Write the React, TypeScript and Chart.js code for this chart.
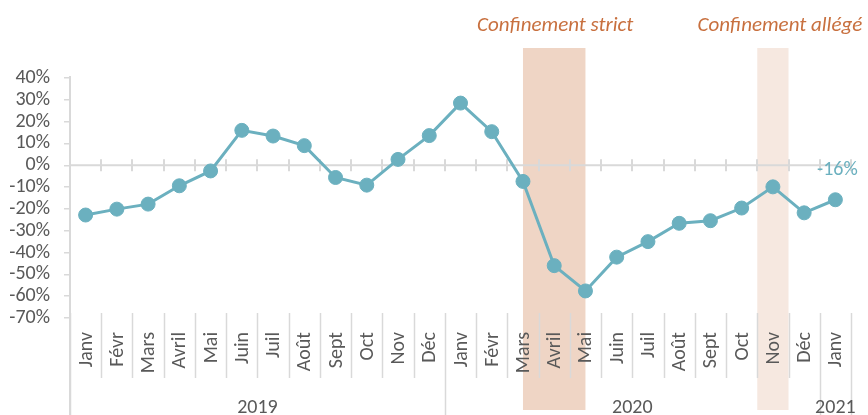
import { useEffect, useRef } from 'react';
import { Chart, registerables } from 'chart.js';
Chart.register(...registerables);

const months = ['Janv', 'Févr', 'Mars', 'Avril', 'Mai', 'Juin', 'Juil', 'Août', 'Sept', 'Oct', 'Nov', 'Déc',
  'Janv', 'Févr', 'Mars', 'Avril', 'Mai', 'Juin', 'Juil', 'Août', 'Sept', 'Oct', 'Nov', 'Déc', 'Janv'];
const values = [-22.8, -20.1, -17.8, -9.4, -2.6, 16.0, 13.4, 9.0, -5.6, -9.1, 2.7, 13.6,
  28.5, 15.4, -7.4, -46.0, -57.6, -42.1, -35.0, -26.6, -25.4, -19.6, -9.9, -21.8, -15.8];
const years = ['2019', '2020', '2021'];
const yearFirstIndex = [0, 12, 24];
const yearLastIndex = [11, 23, 24];
const periodLabels = ['Confinement strict', 'Confinement allégé'];
const periodFrom = [14, 21.5];
const periodTo = [16, 22.5];
const periodColors = ['#EFD5C5', '#F6E8E0'];
const lastValueLabel = '-16%';
const yMin = -70;
const yMax = 40;
const yStep = 10;

const FONT = 'Carlito, Calibri, Lato, sans-serif';
const GREY = '#595959';
const LINE_GREY = '#D9D9D9';
const TEAL = '#6BB0BF';
const ORANGE = '#C8703F';

const overlay = {
  id: 'overlay',
  beforeDraw(chart: any) {
    const { ctx, chartArea, scales } = chart;
    const x = scales.x;
    ctx.save();
    for (let i = 0; i < periodLabels.length; i++) {
      const x1 = x.getPixelForValue(periodFrom[i]);
      const x2 = x.getPixelForValue(periodTo[i]);
      const top = chartArea.top - 30;
      ctx.fillStyle = periodColors[i];
      ctx.fillRect(x1, top, x2 - x1, chart.height - 5 - top);
    }
    ctx.restore();
  },
  beforeDatasetsDraw(chart: any) {
    const { ctx, chartArea, scales } = chart;
    const x = scales.x;
    const y = scales.y;
    const y0 = y.getPixelForValue(0);
    ctx.save();
    ctx.strokeStyle = LINE_GREY;
    ctx.lineWidth = 2;
    ctx.beginPath();
    ctx.moveTo(chartArea.left, y0);
    ctx.lineTo(chartArea.right, y0);
    for (let i = 0; i <= months.length; i++) {
      const bx = Math.round(x.getPixelForValue(i - 0.5));
      ctx.moveTo(bx, y0 - 6);
      ctx.lineTo(bx, y0 + 6);
    }
    ctx.stroke();

    const sepTop = chartArea.bottom - 5;
    ctx.lineWidth = 1.5;
    ctx.beginPath();
    const yearBounds = new Set<number>();
    yearFirstIndex.forEach((v) => yearBounds.add(v));
    yearBounds.add(months.length);
    for (let i = 0; i <= months.length; i++) {
      const bx = Math.round(x.getPixelForValue(i - 0.5)) + 0.5;
      ctx.moveTo(bx, sepTop);
      ctx.lineTo(bx, yearBounds.has(i) ? chart.height : chartArea.bottom + 60);
    }
    ctx.stroke();
    ctx.beginPath();
    ctx.lineWidth = 2;
    ctx.moveTo(chartArea.left, chartArea.top - 2);
    ctx.lineTo(chartArea.left, chart.height);
    ctx.stroke();

    ctx.fillStyle = GREY;
    ctx.font = `20px ${FONT}`;
    ctx.textAlign = 'right';
    ctx.textBaseline = 'middle';
    months.forEach((m, i) => {
      const cx = x.getPixelForValue(i);
      ctx.save();
      ctx.translate(cx + 1, chartArea.bottom + 14);
      ctx.rotate(-Math.PI / 2);
      ctx.fillText(m, 0, 0);
      ctx.restore();
    });
    ctx.textAlign = 'center';
    ctx.textBaseline = 'alphabetic';
    years.forEach((yr, i) => {
      const a = x.getPixelForValue(yearFirstIndex[i] - 0.5);
      const b = x.getPixelForValue(yearLastIndex[i] + 0.5);
      ctx.fillText(yr, (a + b) / 2, chart.height - 2);
    });
    ctx.restore();
  },
  afterDatasetsDraw(chart: any) {
    const { ctx, chartArea, scales } = chart;
    const x = scales.x;
    ctx.save();
    const meta = chart.getDatasetMeta(0);
    const last = meta.data[meta.data.length - 1];
    ctx.fillStyle = TEAL;
    ctx.font = `20px ${FONT}`;
    ctx.textAlign = 'center';
    ctx.textBaseline = 'middle';
    ctx.fillText(lastValueLabel, last.x + 2, last.y - 30);

    ctx.fillStyle = ORANGE;
    ctx.font = `italic 21px ${FONT}`;
    periodLabels.forEach((t, i) => {
      const c = (x.getPixelForValue(periodFrom[i]) + x.getPixelForValue(periodTo[i])) / 2;
      const off = i === 1 ? 7 : 1;
      ctx.fillText(t, c + off, chartArea.top - 52);
    });
    ctx.restore();
  },
};

export default function App() {
  const ref = useRef<HTMLCanvasElement>(null);
  useEffect(() => {
    if (!ref.current) return;
    const chart = new Chart(ref.current, {
      type: 'line',
      data: {
        labels: months,
        datasets: [{
          data: values,
          borderColor: TEAL,
          backgroundColor: TEAL,
          borderWidth: 3,
          pointRadius: 7,
          pointBorderWidth: 1,
          pointBackgroundColor: TEAL,
          pointBorderColor: TEAL,
          tension: 0,
        }],
      },
      options: {
        responsive: false,
        animation: false,
        devicePixelRatio: 1,
        layout: { padding: { left: 8, right: 17, top: 78, bottom: 97 } },
        plugins: { legend: { display: false }, tooltip: { enabled: false } },
        scales: {
          x: { type: 'category', display: false, offset: true },
          y: {
            min: yMin,
            max: yMax,
            afterFit: (s: any) => { s.width = 62; },
            ticks: {
              stepSize: yStep,
              autoSkip: false,
              padding: 14,
              color: GREY,
              font: { family: FONT, size: 20 },
              callback: (v: any) => `${v}%`,
            },
            grid: { drawOnChartArea: false, drawTicks: true, tickLength: 6, color: LINE_GREY, lineWidth: 1.5 },
            border: { display: true, color: LINE_GREY, width: 2 },
          },
        },
      },
      plugins: [overlay],
    } as any);
    return () => chart.destroy();
  }, []);
  return (
    <div style={{ position: 'absolute', left: 0, top: 0, width: 868, height: 415, background: '#fff' }}>
      <canvas ref={ref} width={868} height={415} style={{ width: 868, height: 415 }} />
    </div>
  );
}
